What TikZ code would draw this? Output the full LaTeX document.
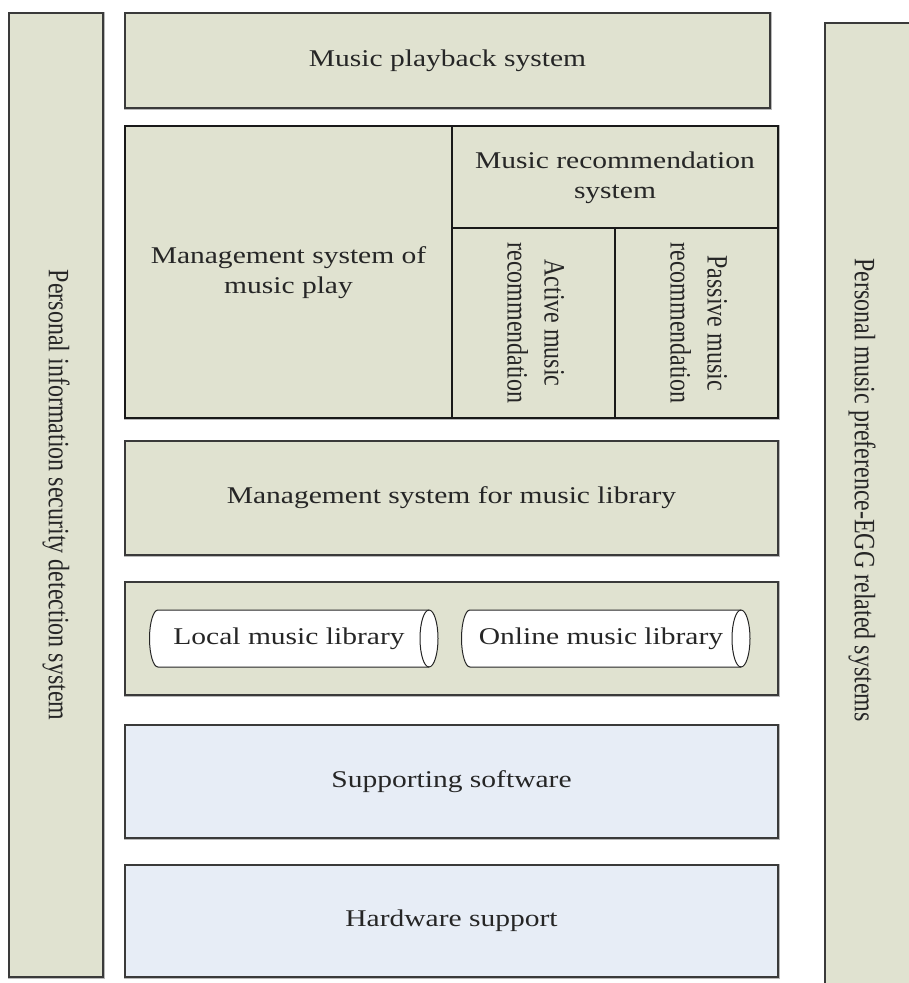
\documentclass[tikz,border=0pt]{standalone}
\usepackage{fontspec}
\setmainfont{Liberation Serif}
\usepackage{graphicx}
\definecolor{beige}{HTML}{E0E2D0}
\definecolor{lblue}{HTML}{E7EDF6}
\definecolor{edgec}{HTML}{3A3A3A}
\newcommand\hstr[1]{\scalebox{1.23}[1]{#1}}
\newcommand\vstr[1]{\scalebox{1}[1.23]{#1}}
\tikzset{
  txt/.style={font=\fontsize{24}{30}\selectfont, text=black!85},
  box/.style={rectangle, fill=beige, draw=edgec, line width=1.3pt,
    preaction={draw=gray!55, line width=3pt},
    inner sep=0pt, outer sep=0pt, anchor=north west, txt},
  bluebox/.style={box, fill=lblue},
  cell/.style={rectangle, draw=black!90, line width=1.2pt, inner sep=0pt,
    outer sep=0pt, anchor=north west, txt},
  lbl/.style={inner sep=0pt, txt},
  cyl/.style={fill=white, draw=black!85, line width=1pt},
}
\begin{document}
\begin{tikzpicture}[x=1pt,y=-1pt]
\useasboundingbox (0,0) rectangle (909,983);
\clip (0,0) rectangle (909,983);

% side bars
\node[box, minimum width=94, minimum height=964] (lbar) at (9,13) {};
\node[lbl, rotate=-90] (ltext) at (lbar.center) {\vstr{Personal information security detection system}};
\node[box, minimum width=110, minimum height=990] (rbar) at (825,23) {};
\node[lbl, rotate=-90] (rtext) at (862,490) {\vstr{Personal music preference-EGG related systems}};

% playback
\node[box, minimum width=645, minimum height=95] (play) at (125,13) {\hstr{Music playback system}};

% management / recommendation block
\node[box, minimum width=653, minimum height=292] (mgmt) at (125,126) {};
\node[cell, minimum width=327, minimum height=292] (mplay) at (125,126)
  {\hstr{\begin{tabular}{@{}c@{}}Management system of\\music play\end{tabular}}};
\node[cell, minimum width=326, minimum height=102] (rec) at (452,126)
  {\hstr{\begin{tabular}{@{}c@{}}Music recommendation\\system\end{tabular}}};
\node[cell, minimum width=163, minimum height=190] (active) at (452,228) {};
\node[cell, minimum width=163, minimum height=190] (passive) at (615,228) {};
\node[lbl, rotate=-90] (activet) at (active.center)
  {\vstr{\begin{tabular}{@{}c@{}}Active music\\recommendation\end{tabular}}};
\node[lbl, rotate=-90] (passivet) at (passive.center)
  {\vstr{\begin{tabular}{@{}c@{}}Passive music\\recommendation\end{tabular}}};

% library management
\node[box, minimum width=653, minimum height=114] (libm) at (125,441) {\hstr{Management system for music library}};

% libraries
\node[box, minimum width=653, minimum height=113] (libs) at (125,582) {};
\draw[cyl] (158,610) -- (429,610) arc (-90:90:9 and 28.5) -- (158,667) arc (90:270:8.5 and 28.5) -- cycle;
\draw[cyl, fill=none] (429,610) arc (270:90:9 and 28.5);
\draw[cyl] (470,610) -- (741,610) arc (-90:90:9 and 28.5) -- (470,667) arc (90:270:8.5 and 28.5) -- cycle;
\draw[cyl, fill=none] (741,610) arc (270:90:9 and 28.5);
\node[lbl] (local) at (289,638.5) {\hstr{Local music library}};
\node[lbl] (online) at (601,638.5) {\hstr{Online music library}};

% support
\node[bluebox, minimum width=653, minimum height=113] (soft) at (125,725) {\hstr{Supporting software}};
\node[bluebox, minimum width=653, minimum height=112] (hard) at (125,865) {\hstr{Hardware support}};
\end{tikzpicture}
\end{document}
